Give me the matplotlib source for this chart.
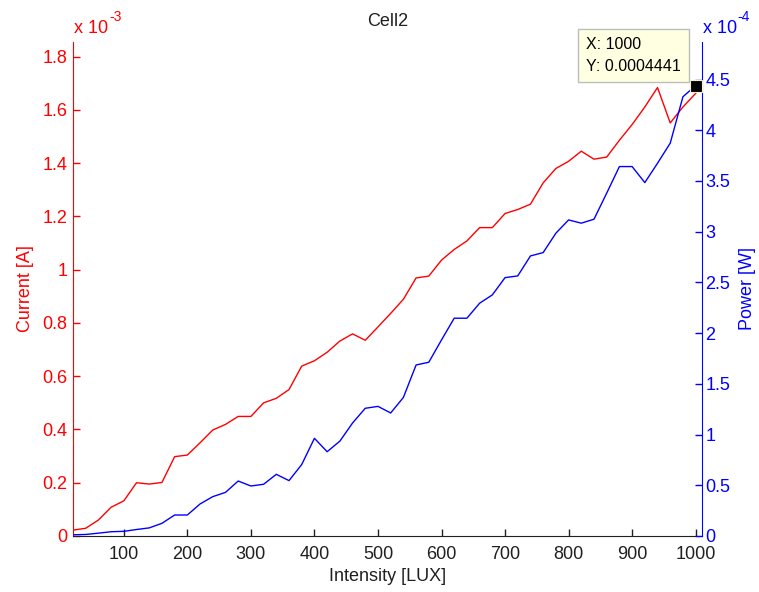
import matplotlib
matplotlib.use("Agg")
import matplotlib.pyplot as plt
from matplotlib.ticker import FuncFormatter, MultipleLocator

plt.rcParams['font.family'] = ['Liberation Sans', 'DejaVu Sans']

# Light intensity steps [LUX]
intensity = [20, 40, 60, 80, 100, 120, 140, 160, 180, 200,
             220, 240, 260, 280, 300, 320, 340, 360, 380, 400,
             420, 440, 460, 480, 500, 520, 540, 560, 580, 600,
             620, 640, 660, 680, 700, 720, 740, 760, 780, 800,
             820, 840, 860, 880, 900, 920, 940, 960, 980, 1000]

# Cell current in units of 1e-3 A
current_e3 = [0.022, 0.029, 0.060, 0.108, 0.132, 0.200, 0.195, 0.201, 0.298, 0.304,
              0.350, 0.398, 0.419, 0.449, 0.449, 0.500, 0.517, 0.550, 0.638, 0.658,
              0.690, 0.732, 0.759, 0.735, 0.785, 0.836, 0.889, 0.969, 0.976, 1.036,
              1.076, 1.108, 1.158, 1.158, 1.211, 1.226, 1.246, 1.326, 1.380, 1.407,
              1.445, 1.415, 1.423, 1.486, 1.545, 1.611, 1.684, 1.551, 1.611, 1.662]

# Cell power in units of 1e-4 W
power_e4 = [0.012, 0.015, 0.028, 0.042, 0.046, 0.064, 0.080, 0.125, 0.207, 0.207,
            0.316, 0.388, 0.430, 0.542, 0.493, 0.510, 0.608, 0.546, 0.705, 0.963,
            0.831, 0.935, 1.114, 1.259, 1.278, 1.213, 1.366, 1.686, 1.713, 1.933,
            2.147, 2.147, 2.295, 2.377, 2.547, 2.564, 2.761, 2.794, 2.985, 3.116,
            3.084, 3.123, 3.380, 3.642, 3.642, 3.484, 3.675, 3.873, 4.330, 4.441]

current = [v * 1e-3 for v in current_e3]
power = [v * 1e-4 for v in power_e4]

# Data cursor on the last power sample
tip_x = intensity[-1]
tip_y = power[-1]

W, H = 759, 592
fig = plt.figure(figsize=(W / 100, H / 100), dpi=100)
fig.patch.set_facecolor('white')

left, right, bottom, top = 73, 702, 536, 42
ax1 = fig.add_axes([left / W, 1 - bottom / H, (right - left) / W, (bottom - top) / H])
ax2 = ax1.twinx()

RED = (1.0, 0.0, 0.0)
BLUE = (0.0, 0.0, 1.0)
TXT = '#202020'
FS = 13

ax1.plot(intensity, current, color=RED, lw=1.0)
ax2.plot(intensity, power, color=BLUE, lw=1.0)
ax2.plot([tip_x], [tip_y], marker='s', ms=8.5, mfc='black', mec='#F4F0C8', mew=0.8,
         ls='none', zorder=5, clip_on=False)

ax1.set_xlim(20, 1010)
ax1.set_ylim(0, 1.855e-3)
ax2.set_ylim(0, 4.87e-4)

ax1.xaxis.set_major_locator(MultipleLocator(100))
ax1.yaxis.set_major_locator(MultipleLocator(0.2e-3))
ax2.yaxis.set_major_locator(MultipleLocator(0.5e-4))
ax1.yaxis.set_major_formatter(FuncFormatter(lambda v, _: f"{v * 1e3:g}"))
ax2.yaxis.set_major_formatter(FuncFormatter(lambda v, _: f"{v * 1e4:g}"))

for ax in (ax1, ax2):
    ax.spines['top'].set_visible(False)
    ax.set_facecolor('none')
ax2.spines['left'].set_visible(False)
ax2.spines['bottom'].set_visible(False)
ax1.spines['right'].set_visible(False)
ax1.spines['left'].set_color(RED)
ax2.spines['right'].set_color(BLUE)
ax1.spines['bottom'].set_color(TXT)

ax1.tick_params(axis='x', direction='in', length=5, width=1, colors=TXT,
                labelsize=FS, pad=7.5)
ax1.tick_params(axis='y', direction='in', length=5, width=1, colors=RED,
                labelsize=FS, pad=4)
ax2.tick_params(axis='y', direction='in', length=5, width=1, colors=BLUE,
                labelsize=FS, pad=2.5)

ax1.set_xlabel('Intensity [LUX]', fontsize=FS, color=TXT, labelpad=3.5)
ax1.set_ylabel('Current [A]', fontsize=FS, color=RED, labelpad=6)
ax2.set_ylabel('Power [W]', fontsize=FS, color=BLUE, labelpad=6)

fig.text((left + right) / 2 / W, 1 - 22 / H, 'Cell2', fontsize=FS, color=TXT,
         ha='center', va='center')

# Exponent labels above each y axis
fig.text(74 / W, 1 - 33 / H, 'x 10', fontsize=FS, color=RED, va='baseline')
fig.text(109 / W, 1 - 21 / H, '-3', fontsize=10, color=RED, va='baseline')
fig.text(703 / W, 1 - 33 / H, 'x 10', fontsize=FS, color=BLUE, va='baseline')
fig.text(737 / W, 1 - 21 / H, '-4', fontsize=10, color=BLUE, va='baseline')

ax2.annotate(f"X: {tip_x}\nY: {tip_y:.7f}", xy=(tip_x, tip_y),
             xytext=(-15, 12), textcoords='offset pixels', ha='right', va='bottom',
             multialignment='left', fontsize=11.5, color='black', linespacing=1.55,
             bbox=dict(boxstyle='square,pad=0.5', fc='#FFFFE1', ec='#BDBDBD', lw=1),
             annotation_clip=False, zorder=6)

fig.savefig('out.png', dpi=100)
